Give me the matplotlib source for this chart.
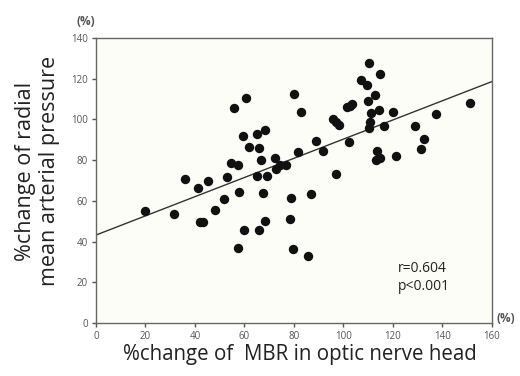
import matplotlib as mpl
mpl.use('Agg')
import matplotlib.pyplot as plt

# ── data ────────────────────────────────────────────────────────────────
mbr_change = [19.7, 31.4, 36.0, 41.1, 42.1, 43.1, 45.4, 48.2, 51.8, 52.8,
              54.5, 57.5, 55.9, 60.7, 59.5, 61.7, 64.9, 68.3, 66.0, 66.8,
              64.9, 69.2, 72.3, 72.6, 74.3, 76.6, 80.1, 82.8, 81.5, 57.8,
              57.2, 59.7, 67.3, 65.7, 68.4, 78.7, 78.3, 79.6, 85.7, 87.0,
              88.8, 91.7, 95.6, 97.0, 98.3, 97.1, 101.5, 102.6, 103.4, 102.3,
              106.9, 109.4, 110.3, 114.9, 112.7, 109.8, 111.1, 114.2, 110.6, 110.2,
              116.5, 120.1, 113.4, 113.2, 114.7, 121.2, 129.0, 132.6, 131.4, 137.2,
              151.2]
map_change = [55.2, 53.6, 70.7, 66.3, 49.5, 49.5, 69.9, 55.4, 61.1, 71.7,
              78.5, 77.6, 105.8, 110.6, 92.0, 86.5, 93.0, 95.0, 86.1, 80.0,
              72.4, 72.4, 80.8, 75.7, 77.4, 77.7, 112.4, 103.4, 84.2, 64.4,
              36.9, 45.9, 63.9, 45.7, 50.3, 61.4, 51.2, 36.2, 33.1, 63.4,
              89.5, 84.3, 100.1, 98.6, 97.1, 73.2, 106.0, 106.6, 107.6, 88.7,
              119.3, 117.0, 127.6, 122.4, 112.2, 109.1, 103.2, 104.5, 98.6, 95.8,
              96.7, 103.5, 84.3, 80.3, 80.8, 82.2, 96.8, 90.4, 85.4, 102.9,
              108.1]

fit_x = [0, 160]
fit_y = [43.2, 118.6]

x_ticks = [0, 20, 40, 60, 80, 100, 120, 140, 160]
y_ticks = [0, 20, 40, 60, 80, 100, 120, 140]

plt.rcParams['font.family'] = ['Open Sans', 'DejaVu Sans']

fig = plt.figure(figsize=(5.2, 3.76), dpi=100)
ax = fig.add_axes([0.1846, 0.141, 0.7615, 0.758])
ax.set_facecolor('#fdfdf8')

ax.scatter(mbr_change, map_change, s=46, color='#111111', zorder=3,
           linewidths=0)
ax.plot(fit_x, fit_y, color='#333333', linewidth=1.0, zorder=2)

ax.set_xlim(0, 160)
ax.set_ylim(0, 140)
ax.set_xticks(x_ticks)
ax.set_yticks(y_ticks)
ax.tick_params(direction='out', length=3, width=1, color='#555555',
               labelsize=7, labelcolor='#555555', pad=3)
for sp in ax.spines.values():
    sp.set_color('#666666')
    sp.set_linewidth(1.0)

ax.text(122, 14, 'r=0.604\np<0.001', fontsize=10, color='#222222',
        linespacing=1.35, va='bottom', ha='left')

fig.text(0.165, 0.942, '(%)', fontsize=8.5, color='#555555',
         fontweight='bold', ha='center', va='center')
fig.text(0.972, 0.154, '(%)', fontsize=8.5, color='#555555',
         fontweight='bold', ha='center', va='center')

fig.text(0.072, 0.545, '%change of radial\nmean arterial pressure',
         fontsize=15.5, rotation=90, ha='center', va='center',
         linespacing=1.2, color='#222222')
fig.text(0.577, 0.056, '%change of  MBR in optic nerve head',
         fontsize=14.8, ha='center', va='center', color='#222222')

fig.savefig('out.png', dpi=100)
